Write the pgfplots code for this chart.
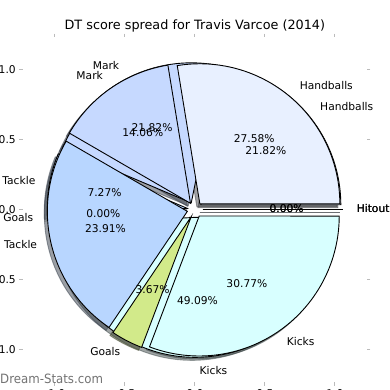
\documentclass[border=0pt]{standalone}
\usepackage{fontspec}
\setmainfont{DejaVu Sans}
\usepackage{pgfplots}
\usepackage{pgfplotstable}
\pgfplotsset{compat=1.18}

\definecolor{cHit}{HTML}{E0E8FF}
\definecolor{cHand}{HTML}{E8F0FF}
\definecolor{cMark}{HTML}{C6D9FF}
\definecolor{cTack}{HTML}{B8D6FF}
\definecolor{cGoal}{HTML}{D2EA8A}
\definecolor{cKick}{HTML}{D8FFFF}
\definecolor{tickgray}{HTML}{BBBBBB}

% percentages of the two pies (A drawn on top of B)
\pgfplotstableread{
label     col   pctA   pctB
Hitout    cHit  0.00   0.00
Handballs cHand 27.58  21.82
Mark      cMark 14.06  21.82
Tackle    cTack 23.91  7.27
Goals     cGoal 3.67   0.00
Kicks     cKick 30.77  49.09
}\spread

\newcommand\lblfont{\fontsize{10.7}{12.8}\selectfont}
\tikzset{txt/.style={font=\lblfont, inner sep=0pt, text height=8.1pt, text depth=2.6pt}}
\def\explode{0.055}
\def\shoff{0.0214}

\newcommand\drawwedge{%
  \ifdim\pct pt=0pt
    \pgfmathsetmacro\ex{\ox+cos(\tA)}\pgfmathsetmacro\ey{\oy+sin(\tA)}%
    \edef\temp{\noexpand\addplot[\sty, line width=0.9pt] coordinates {(\ox,\oy) (\ex,\ey)};}%
  \else
    \edef\temp{\noexpand\addplot[\sty, line width=0.9pt, domain=\tA:\tB, samples=80, variable=\noexpand\t] ({\ox+cos(\noexpand\t)},{\oy+sin(\noexpand\t)}) -- (axis cs:\ox,\oy) -- cycle;}%
  \fi
  \temp
}
\newcommand\drawtexts{%
  \pgfmathsetmacro\lx{\ox+1.1*cos(\tM)}\pgfmathsetmacro\ly{\oy+1.1*sin(\tM)}%
  \pgfmathsetmacro\px{\ox+0.6*cos(\tM)}\pgfmathsetmacro\py{\oy+0.6*sin(\tM)}%
  \ifdim\lx pt>0pt \def\anc{west}\else\def\anc{east}\fi
  \edef\temp{\noexpand\node[anchor=\anc, txt] at (axis cs:\lx,\ly) {\lab};
    \noexpand\node[anchor=center, txt] at (axis cs:\px,\py) {\pct\noexpand\%};}%
  \temp
}
% #1 column, #2 mode: 0 shadow, 1 wedge, 2 text
\newcommand\pie[2]{%
  \gdef\cum{0}%
  \pgfplotsforeachungrouped \i in {0,...,5}{%
    \pgfplotstablegetelem{\i}{#1}\of\spread \let\pct\pgfplotsretval
    \pgfplotstablegetelem{\i}{col}\of\spread \let\col\pgfplotsretval
    \pgfplotstablegetelem{\i}{label}\of\spread \let\lab\pgfplotsretval
    \pgfmathsetmacro\tA{\cum*3.6}%
    \pgfmathparse{\cum+\pct}\xdef\cum{\pgfmathresult}%
    \pgfmathsetmacro\tB{\cum*3.6}%
    \pgfmathsetmacro\tM{(\tA+\tB)/2}%
    \pgfmathsetmacro\ox{\explode*cos(\tM)}%
    \pgfmathsetmacro\oy{\explode*sin(\tM)}%
    \ifcase#2
      \pgfmathsetmacro\ox{\ox-\shoff}\pgfmathsetmacro\oy{\oy-\shoff}%
      \def\sty{fill=\col!30!black, draw=\col!30!black, fill opacity=0.5, draw opacity=0.5}%
      \drawwedge
    \or
      \def\sty{fill=\col, draw=black}%
      \drawwedge
    \or
      \drawtexts
    \fi
  }%
}

\begin{document}
\begin{tikzpicture}
\begin{axis}[
  scale only axis, width=343.7pt, height=344.7pt,
  xmin=-1.2275, xmax=1.2275, ymin=-1.231, ymax=1.231,
  clip=false,
  axis line style={draw=none},
  tick align=outside, major tick length=3.7pt,
  tick style={tickgray, line width=1pt},
  xtick={-1,-0.5,0,0.5,1}, ytick={-1,-0.5,0,0.5,1},
  ticklabel style={font=\lblfont},
  xticklabel pos=lower, yticklabel pos=left,
  /pgf/number format/.cd, fixed, fixed zerofill, precision=1, assume math mode=true,
]
\pie{pctB}{0}
\pie{pctA}{0}
\pie{pctB}{1}
\pie{pctA}{1}
\pie{pctB}{2}
\pie{pctA}{2}
\node[anchor=base, font=\fontsize{12.8}{15}\selectfont, yshift=7.3pt] at (rel axis cs:0.5,1) {DT score spread for Travis Varcoe (2014)};
\end{axis}
\node[anchor=base west, inner sep=0pt, text=black!55, font=\fontsize{12.8}{14}\selectfont] at (-23pt,-1.5pt) {\scalebox{0.92}[1]{Dream-Stats.com}};
\pgfresetboundingbox
\useasboundingbox (-23pt,-8pt) rectangle (367pt,382pt);
\end{tikzpicture}
\end{document}
